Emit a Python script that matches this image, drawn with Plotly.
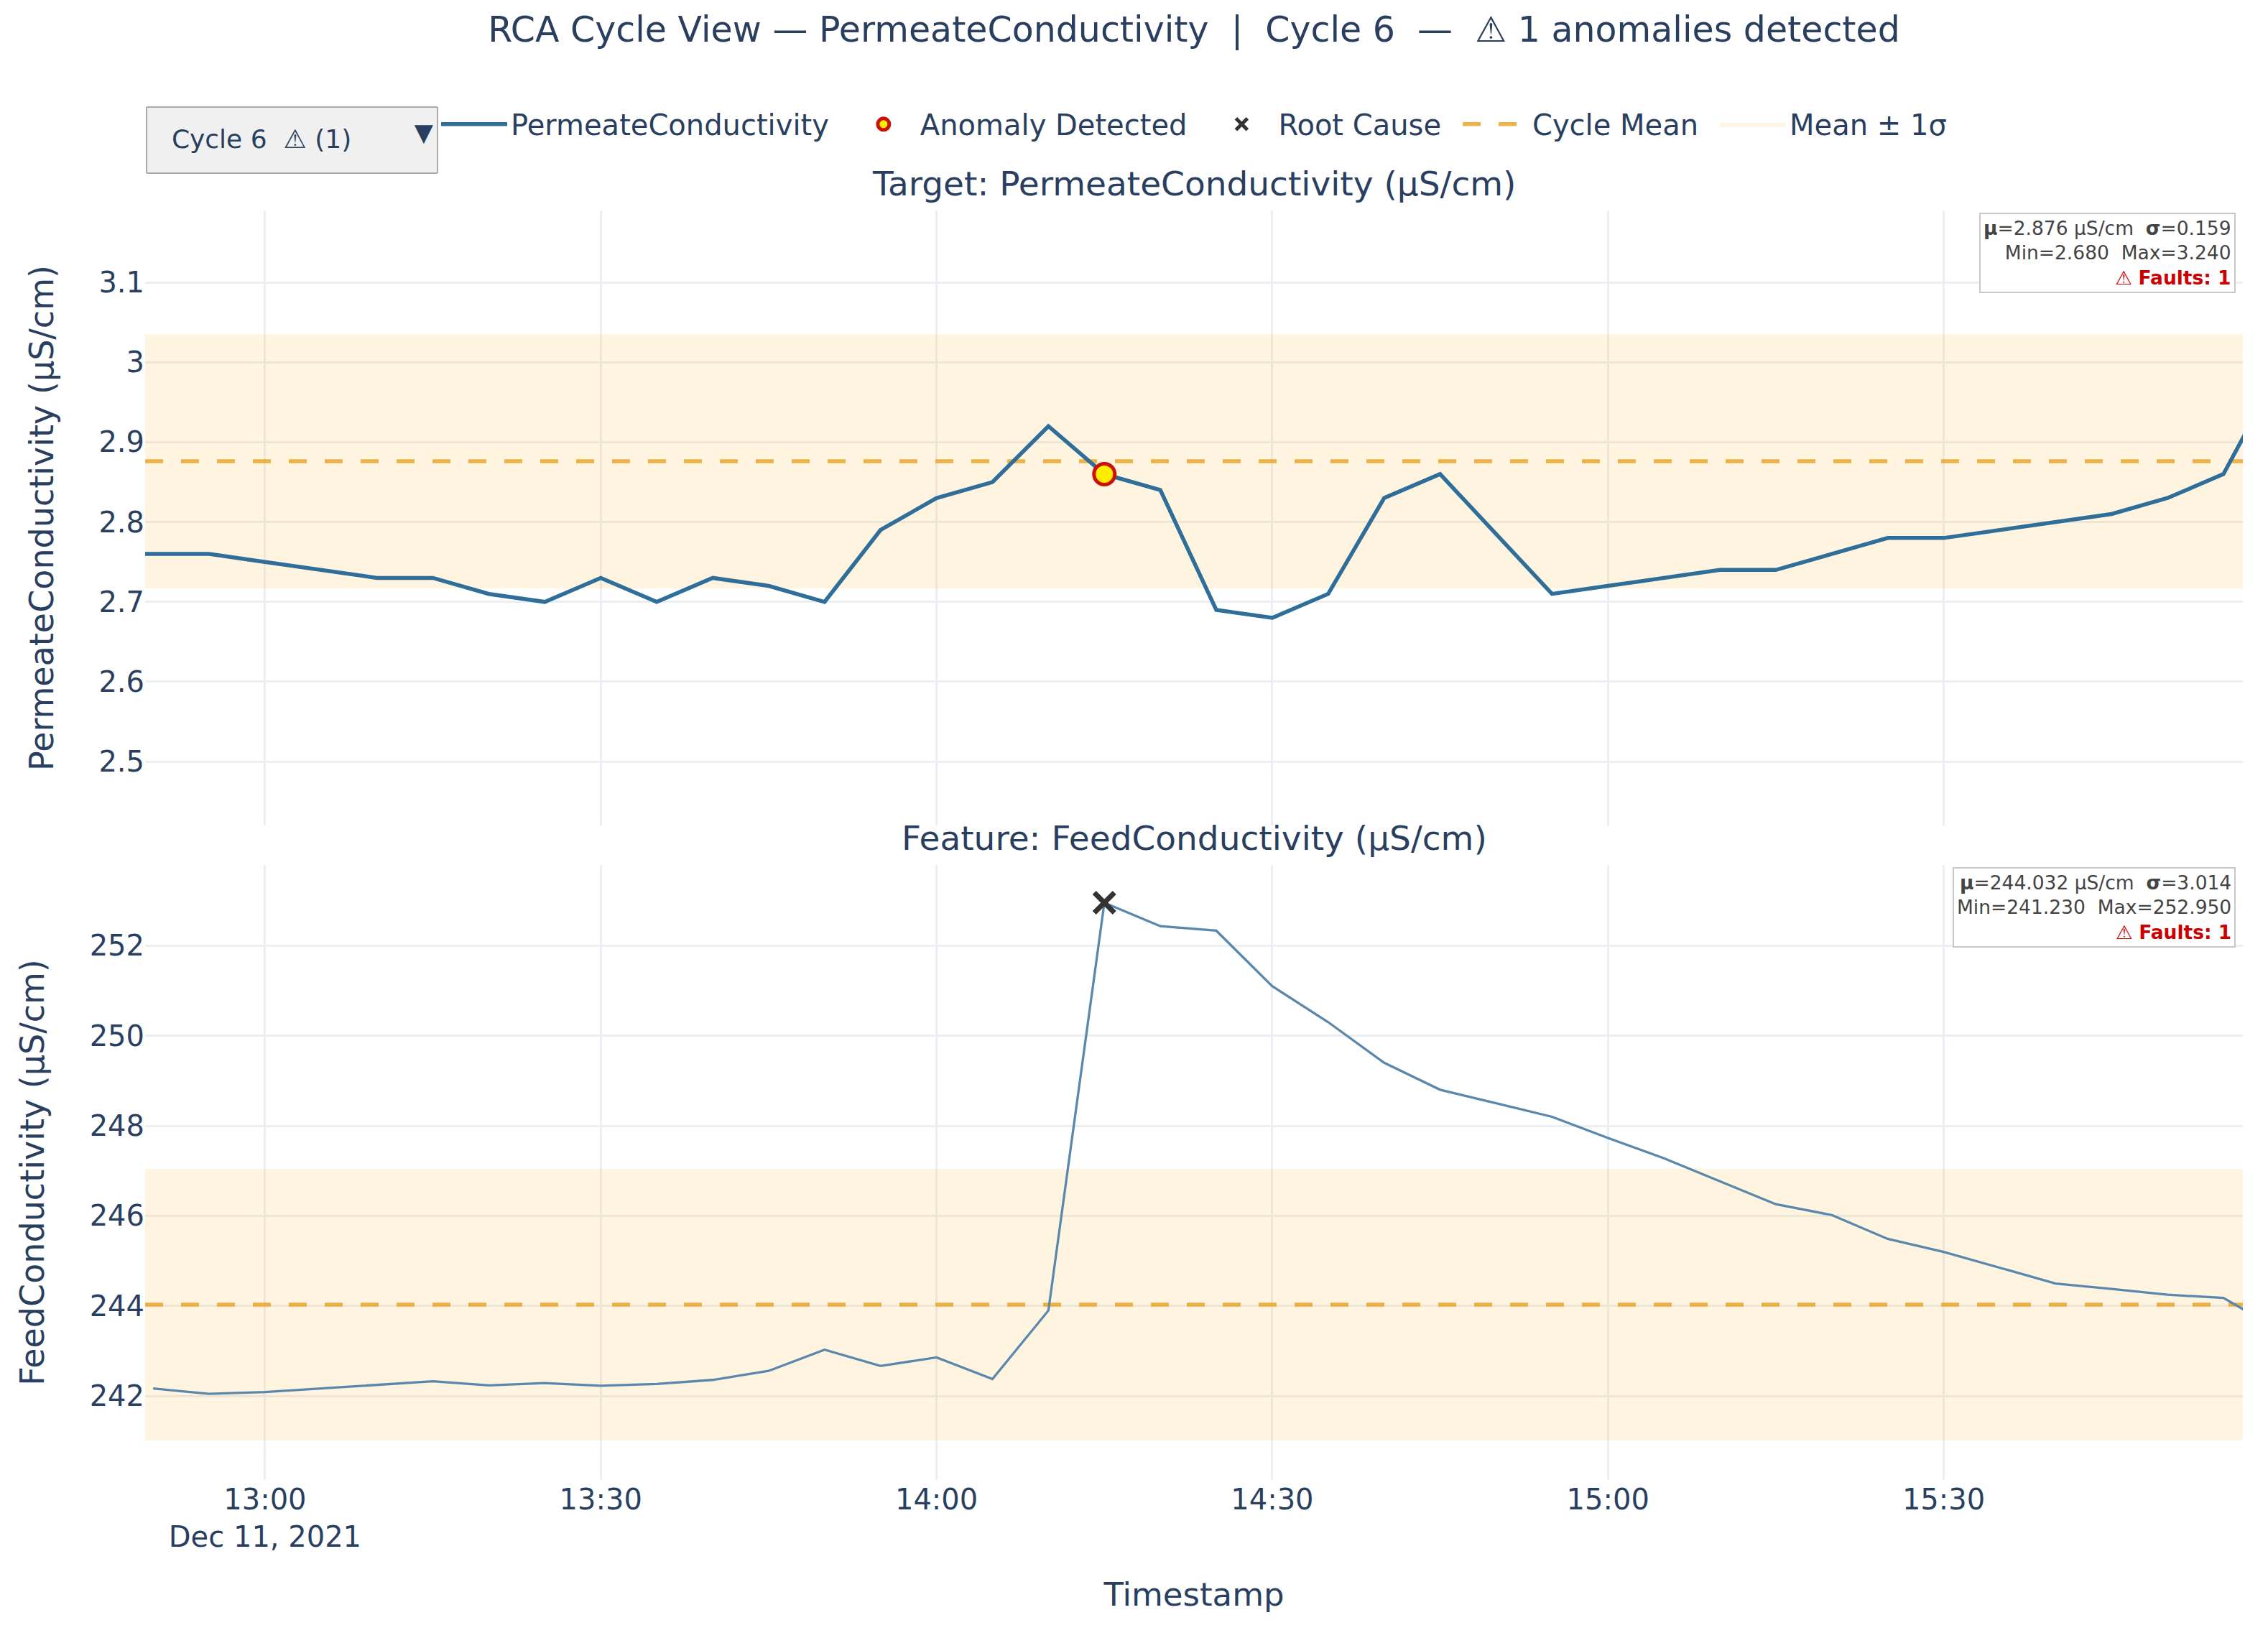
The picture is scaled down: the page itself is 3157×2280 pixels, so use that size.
"""
RCA cycle view: target vs. root-cause feature for one cycle.
Based on plotly module
"""
from plotly import graph_objs as go
from plotly.subplots import make_subplots

DAY = "2021-12-11 "

# Target: PermeateConductivity, 5 min samples
perm_times = ["12:45", "12:50", "12:55", "13:00", "13:05", "13:10", "13:15", "13:20",
              "13:25", "13:30", "13:35", "13:40", "13:45", "13:50", "13:55", "14:00",
              "14:05", "14:10", "14:15", "14:20", "14:25", "14:30", "14:35", "14:40",
              "14:45", "14:50", "14:55", "15:00", "15:05", "15:10", "15:15", "15:20",
              "15:25", "15:30", "15:35", "15:40", "15:45", "15:50", "15:55", "16:00"]
perm_values = [2.76, 2.76, 2.76, 2.75, 2.74, 2.73, 2.73, 2.71,
               2.70, 2.73, 2.70, 2.73, 2.72, 2.70, 2.79, 2.83,
               2.85, 2.92, 2.86, 2.84, 2.69, 2.68, 2.71, 2.83,
               2.86, 2.785, 2.71, 2.72, 2.73, 2.74, 2.74, 2.76,
               2.78, 2.78, 2.79, 2.80, 2.81, 2.83, 2.86, 2.99]

# Feature: FeedConductivity
feed_times = perm_times[1:]
feed_values = [242.17, 242.05, 242.09, 242.17, 242.25, 242.33, 242.24,
               242.29, 242.23, 242.27, 242.36, 242.56, 243.03, 242.67, 242.86,
               242.38, 243.90, 252.95, 252.43, 252.33, 251.10, 250.30, 249.40,
               248.80, 248.50, 248.20, 247.73, 247.28, 246.77, 246.26, 246.02,
               245.49, 245.20, 244.85, 244.50, 244.38, 244.25, 244.18, 243.46]

anomaly_times = ["14:15"]
anomaly_values = [2.86]
root_times = ["14:15"]
root_values = [252.95]

# cycle stats (shown in the boxes)
perm_stats = dict(mean = 2.876, std = 0.159, min = 2.680, max = 3.240, faults = 1)
feed_stats = dict(mean = 244.032, std = 3.014, min = 241.230, max = 252.950, faults = 1)

cycle_window = ["12:49:17", "15:56:44"]
perm_range = [2.42, 3.19]
feed_range = [240.14, 253.79]
cycle_label = "Cycle 6  ⚠ (1)"

FONT = "Verdana, DejaVu Sans, sans-serif"
INK = "#2a3f5f"
LINE_BLUE = "#2f6e99"
BAND = "rgba(255,165,0,0.12)"
MEAN = "rgba(232,160,30,0.8)"
GAP = "\u2002"  # spacing after legend entries

stamp = lambda ts: [DAY + t for t in ts]


def StatText(s: dict, unit: str) -> str:
  """Stats box text."""
  return ("<b>μ</b>={:.3f} {}  <b>σ</b>={:.3f}<br>Min={:.3f}  Max={:.3f}<br>"
          "<span style='color:#CC0000'>⚠ <b>Faults: {}</b></span>").format(
            s['mean'], unit, s['std'], s['min'], s['max'], s['faults'])


def AddBand(fig, s: dict, row: int, legend: bool) -> None:
  """Mean +- 1 sigma band and dashed cycle mean."""
  x0, x1 = stamp(cycle_window)
  lo, hi = s['mean'] - s['std'], s['mean'] + s['std']
  fig.add_trace(
    go.Scatter(
      x = [x0, x1, x1, x0, x0], y = [lo, lo, hi, hi, lo],
      fill = 'toself', fillcolor = BAND,
      mode = 'lines', line = dict(width = 0),
      name = "Mean ± 1σ", legendrank = 5,
      showlegend = legend, hoverinfo = 'skip',
    ), row = row, col = 1
  )
  fig.add_trace(
    go.Scatter(
      x = [x0, x1], y = [s['mean'], s['mean']],
      mode = 'lines', line = dict(color = MEAN, width = 5.5, dash = "25px,25px"),
      name = "Cycle Mean" + GAP, legendrank = 4,
      showlegend = legend,
    ), row = row, col = 1
  )


fig = make_subplots(
  rows = 2, cols = 1, shared_xaxes = True, vertical_spacing = 0.031,
  subplot_titles = ("Target: PermeateConductivity (μS/cm)",
                    "Feature: FeedConductivity (μS/cm)"),
)
for a in fig.layout.annotations:
  a.font = dict(size = 47, color = INK, family = FONT)
  a.yshift = 8

AddBand(fig, perm_stats, 1, True)
AddBand(fig, feed_stats, 2, False)

fig.add_trace(
  go.Scatter(
    x = stamp(perm_times), y = perm_values,
    mode = 'lines', name = "PermeateConductivity" + GAP, legendrank = 1,
    line = dict(color = LINE_BLUE, width = 5.5),
  ), row = 1, col = 1
)
fig.add_trace(
  go.Scatter(
    x = stamp(anomaly_times), y = anomaly_values,
    mode = 'markers', name = "Anomaly Detected" + GAP, legendrank = 2,
    marker = dict(color = "#FFEE00", size = 29, line = dict(color = "#CC1100", width = 5)),
  ), row = 1, col = 1
)
fig.add_trace(
  go.Scatter(
    x = stamp(feed_times), y = feed_values,
    mode = 'lines', name = "FeedConductivity", showlegend = False,
    line = dict(color = "#5a88ad", width = 3.3),
  ), row = 2, col = 1
)
fig.add_trace(
  go.Scatter(
    x = stamp(root_times), y = root_values,
    mode = 'markers', name = "Root Cause" + GAP, legendrank = 3,
    marker = dict(symbol = 'x-thin', color = "#333333", size = 28,
                  line = dict(color = "#333333", width = 7)),
  ), row = 2, col = 1
)

for i, s in enumerate([perm_stats, feed_stats]):
  ax = "" if i == 0 else "2"
  fig.add_annotation(
    text = StatText(s, "μS/cm"), align = 'right',
    xref = "x{} domain".format(ax), yref = "y{} domain".format(ax),
    x = 1, y = 1, xanchor = 'right', yanchor = 'top', xshift = -10, yshift = -3,
    showarrow = False, font = dict(size = 26.5, color = "#444444", family = FONT),
    bgcolor = "rgba(255,255,255,0.9)", bordercolor = "#C8C8C8",
    borderwidth = 2, borderpad = 4,
  )

grid = dict(gridcolor = "#EBEEF3", gridwidth = 2.5, zeroline = False,
            tickfont = dict(size = 40), showline = False)
fig.update_xaxes(range = stamp(cycle_window), dtick = 30 * 60 * 1000,
                 tick0 = DAY + "13:00", **grid)
fig.update_xaxes(title = dict(text = "Timestamp", font = dict(size = 45), standoff = 42),
                 row = 2, col = 1)
fig.update_yaxes(range = perm_range, dtick = 0.1, tick0 = 2.5,
                 title = dict(text = "PermeateConductivity (μS/cm)", font = dict(size = 46),
                              standoff = 48),
                 row = 1, col = 1, **grid)
fig.update_yaxes(range = feed_range, dtick = 2, tick0 = 242,
                 title = dict(text = "FeedConductivity (μS/cm)", font = dict(size = 46),
                              standoff = 48),
                 row = 2, col = 1, **grid)

# dropdown: two text lines give the taller header, the label is shifted onto the middle
menu_label = ("<span style='font-size:36px;baseline-shift:-30px'>{}{}{}</span><br>\u00a0"
              .format("\u00a0" * 2, cycle_label, "\u00a0" * 8))

fig.update_layout(
  template = 'plotly_white',
  width = 3141, height = 2264,
  margin = dict(l = 194, r = 27, t = 285, b = 212),
  font = dict(family = FONT, size = 40, color = INK),
  title = dict(text = "RCA Cycle View — PermeateConductivity  |  Cycle 6  —  ⚠ 1 anomalies detected",
               x = 0.5, xref = 'paper', xanchor = 'center',
               y = 0.9854, yanchor = 'middle', font = dict(size = 49)),
  legend = dict(orientation = 'h', x = 0.5, xanchor = 'center', y = 1.068,
                yanchor = 'middle', font = dict(size = 40), itemwidth = 92),
  updatemenus = [dict(
    type = 'dropdown', active = 0, showactive = True,
    buttons = [dict(label = menu_label, method = 'skip', args = [None])],
    x = 0, xanchor = 'left', y = 1.0826, yanchor = 'top',
    font = dict(size = 34, color = INK), bgcolor = "#F0F0F0",
    bordercolor = "#AAAAAA", borderwidth = 2,
  )],
)

fig.write_html("out.html")
